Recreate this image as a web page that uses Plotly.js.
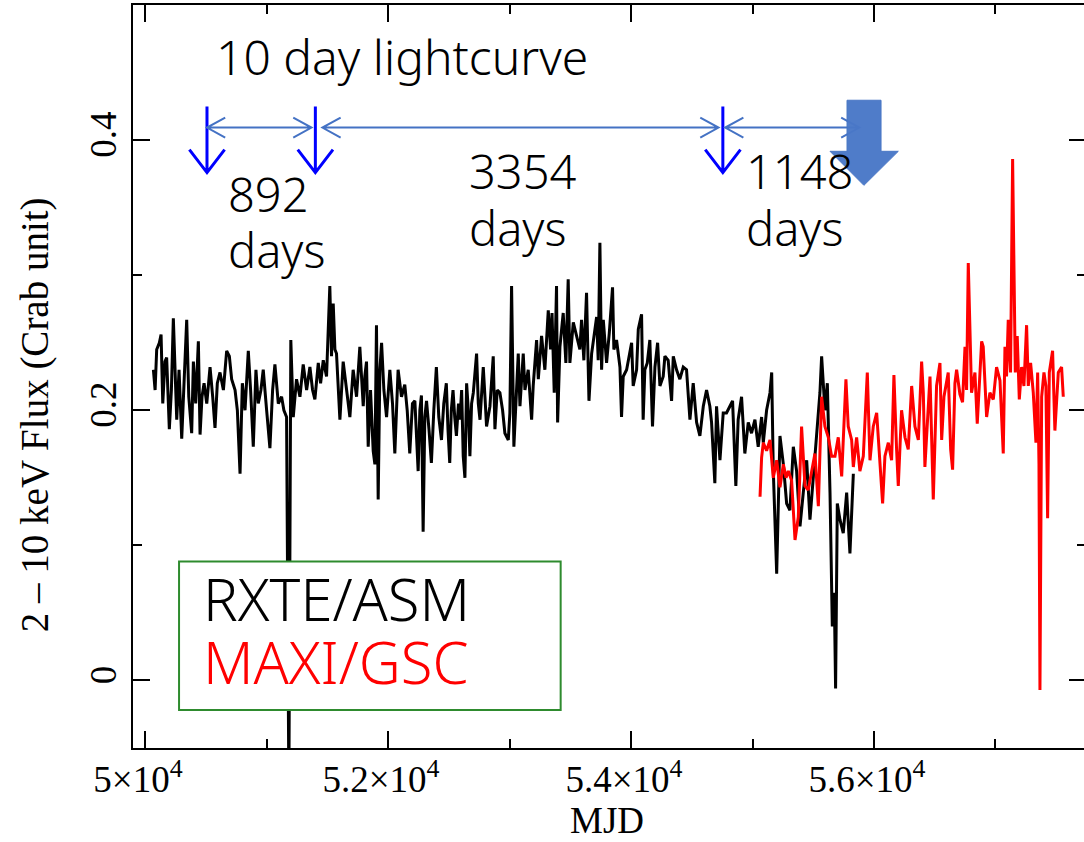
<!DOCTYPE html>
<html>
<head>
<meta charset="utf-8">
<script src="https://cdn.plot.ly/plotly-3.0.1.min.js"></script>
<style>
html,body{margin:0;padding:0;overflow:hidden;background:#fff;}
#chart{width:1086px;height:842px;}
</style>
</head>
<body>
<div id="chart"></div>
<script>
// ---------------- data ----------------
const asmMJD = [
50069,50083,50096,50118,50132,50146,50164,50178,50200,50217,50233,50247,50261,50280,50302,50321,50343,50360,50384,50398,
50417,50439,50453,50469,50486,50508,50535,50557,50576,50595,50617,50645,50672,50694,50713,50741,50760,50782,50801,50823,
50850,50869,50891,50913,50932,50954,50973,51001,51028,51050,51069,51097,51124,51143,51165,51184,51200,51220,51247,51275,
51302,51330,51357,51379,51398,51426,51445,51467,51494,51521,51535,51549,51563,51576,51604,51631,51659,51686,51713,51741,
51768,51796,51809,51823,51837,51856,51878,51892,51905,51919,51933,51947,51966,51988,52015,52037,52056,52083,52111,52138,
52158,52179,52201,52221,52248,52262,52275,52289,52303,52317,52338,52357,52377,52398,52418,52440,52459,52480,52494,52508,
52521,52535,52549,52563,52580,
52592,52606,52619,52633,52647,52661,52674,52688,52702,52729,52743,52757,52784,52798,52811,52839,52866,52880,52899,52921,
52943,52962,52990,53003,53017,53036,53058,53072,53086,53113,53127,53141,53154,53182,53195,53223,53237,53264,53291,53319,
53338,53350,53368,53387,53396,53415,53442,53464,53483,53497,53525,53552,53579,53593,53612,53634,53654,53676,53703,53717,
53730,53744,53758,53772,53799,53821,53848,53859,53881,53909,53922,53936,53964,53991,54005,54018,54046,54060,54087,54100,
54114,54134,54155,54177,54197,54219,54238,54265,54279,54306,54334,54348,54375,54402,54430,54457,54485,54512,54540,54567,
54595,54622,54649,54663,54690,54704,54732,54759,54786,54814,54836,54863,54882,54910,54937,54965,54992,55020,55047,55075,
55089,55116,55144,55158,55171,55199,55212,55226,55254,55281,55308,55336,55363,55391,55418,55446,55473,55500,55528,55555,
55569,55596,55616,55638,55657,55673,55684,55698,55720,55747,55775,55802,55830
];
const asmFlux = [
0.230,0.215,0.245,0.250,0.256,0.205,0.236,0.239,0.186,0.215,0.268,0.225,0.193,0.230,0.179,0.220,0.267,0.210,0.183,0.236,
0.205,0.251,0.182,0.210,0.220,0.205,0.232,0.210,0.187,0.220,0.228,0.215,0.244,0.240,0.223,0.215,0.200,0.153,0.220,0.200,
0.244,0.215,0.173,0.230,0.205,0.215,0.230,0.200,0.172,0.215,0.234,0.205,0.210,0.200,0.195,-0.080,0.252,0.195,0.223,0.210,
0.234,0.215,0.232,0.215,0.208,0.235,0.220,0.237,0.225,0.292,0.240,0.279,0.245,0.242,0.193,0.236,0.215,0.195,0.230,0.210,
0.247,0.203,0.225,0.236,0.173,0.215,0.170,0.160,0.263,0.134,0.230,0.250,0.215,0.195,0.230,0.205,0.168,0.230,0.210,0.219,
0.200,0.168,0.205,0.207,0.155,0.200,0.211,0.110,0.195,0.207,0.185,0.161,0.200,0.232,0.195,0.178,0.205,0.220,0.185,0.161,
0.200,0.215,0.195,0.181,0.205,
0.193,0.215,0.166,0.150,0.220,0.200,0.166,0.205,0.213,0.242,0.205,0.193,0.232,0.210,0.188,0.203,0.240,0.186,0.215,0.213,
0.200,0.183,0.178,0.198,0.292,0.173,0.213,0.242,0.203,0.242,0.215,0.223,0.230,0.193,0.218,0.252,0.223,0.255,0.230,0.274,
0.245,0.272,0.213,0.292,0.191,0.247,0.272,0.235,0.297,0.235,0.265,0.255,0.245,0.267,0.237,0.287,0.207,0.242,0.262,0.269,
0.237,0.324,0.230,0.267,0.235,0.257,0.291,0.245,0.252,0.232,0.195,0.225,0.230,0.242,0.250,0.218,0.230,0.260,0.271,0.193,
0.230,0.235,0.252,0.188,0.232,0.250,0.218,0.225,0.240,0.237,0.207,0.240,0.230,0.223,0.232,0.230,0.193,0.220,0.191,0.181,
0.203,0.215,0.203,0.191,0.146,0.203,0.163,0.198,0.198,0.203,0.207,0.144,0.193,0.210,0.168,0.191,0.183,0.193,0.173,0.195,
0.176,0.200,0.213,0.228,0.156,0.079,0.119,0.181,0.160,0.131,0.126,0.173,0.155,0.114,0.139,0.163,0.119,0.151,0.181,0.213,
0.240,0.200,0.220,0.139,0.040,0.065,-0.006,0.131,0.119,0.109,0.139,0.094,0.153
];
const maxiMJD = [
55062,55075,55089,55116,55144,55171,55199,55226,55254,55276,55295,55322,55350,55377,55404,55432,55459,55487,55514,55542,
55569,55596,55624,55651,55679,55706,55734,55769,55788,55816,55830,55857,55884,55912,55945,55967,55994,56022,56049,56071,
56090,56118,56145,56164,56186,56200,56227,56255,56282,56310,56337,56365,56392,56406,56419,56447,56461,56488,56515,56543,
56557,56576,56611,56631,56647,56666,56680,56707,56729,56749,56762,56776,56790,56803,56831,56850,56886,56899,56927,56954,
56982,57009,57037,57064,57078,57091,57105,57124,57141,57152,57163,57179,57196,57215,57234,57256,57270,57289,57311,57333,
57347,57358,57366,57380,57399,57415,57429,57443,57470,57489,57517,57544,57558
];
const maxiFlux = [
0.136,0.165,0.176,0.170,0.178,0.150,0.163,0.143,0.160,0.150,0.155,0.148,0.104,0.121,0.188,0.144,0.141,0.154,0.168,0.129,
0.210,0.188,0.180,0.166,0.166,0.180,0.151,0.223,0.188,0.178,0.158,0.180,0.155,0.166,0.228,0.163,0.188,0.198,0.163,0.131,
0.166,0.176,0.163,0.226,0.171,0.144,0.200,0.180,0.171,0.218,0.188,0.178,0.236,0.213,0.158,0.200,0.225,0.134,0.218,0.235,
0.178,0.210,0.228,0.171,0.156,0.220,0.230,0.212,0.206,0.247,0.215,0.309,0.257,0.213,0.228,0.190,0.251,0.247,0.195,0.213,
0.208,0.232,0.222,0.168,0.247,0.225,0.267,0.228,0.386,0.321,0.228,0.255,0.208,0.232,0.218,0.263,0.218,0.235,0.213,0.176,
0.228,0.160,-0.007,0.210,0.228,0.218,0.120,0.228,0.244,0.185,0.228,0.232,0.210
];
const seriesNames = ["RXTE/ASM", "MAXI/GSC"];
const xTickVals = [50000, 52000, 54000, 56000];
const xTickText = ["5×10<sup>4</sup>", "5.2×10<sup>4</sup>", "5.4×10<sup>4</sup>", "5.6×10<sup>4</sup>"];
const xMinorVals = [51000, 53000, 55000, 57000];
const yTickVals = [0, 0.2, 0.4];
const yTickText = ["0", "0.2", "0.4"];
const yMinorVals = [0.1, 0.3];
// boundaries of the intervals (MJD) and their lengths in days
const markMJD = [50510, 51402, 54756];
const intervalDays = ["892", "3354", "1148"];

// ---------------- layout helpers ----------------
const serif = "Liberation Serif, Times New Roman, serif";
const sans = "Noto Sans, DejaVu Sans, sans-serif";
const blue = "#0000FF";
const steel = "#4472C4";

const shapes = [];
// thin blue down arrows
markMJD.forEach(m => {
  shapes.push({type:"path", xref:"x", yref:"y", layer:"above",
    path:`M ${m},0.4248 L ${m},0.3759 M ${m-145},0.3930 L ${m},0.3759 L ${m+145},0.3930`,
    line:{color:blue, width:3}});
});
// horizontal double arrows
const hy = 0.4093, ad = 150, ah = 0.0074;
[[50510, 51370], [51460, 54720], [54775, 55880]].forEach(([a, b]) => {
  shapes.push({type:"path", xref:"x", yref:"y", layer:"above",
    path:`M ${a},${hy} L ${b},${hy} M ${a+ad},${hy+ah} L ${a},${hy} L ${a+ad},${hy-ah} M ${b-ad},${hy+ah} L ${b},${hy} L ${b-ad},${hy-ah}`,
    line:{color:steel, width:2}});
});
// block arrow
shapes.push({type:"path", xref:"x", yref:"y", layer:"above",
  path:"M 55778,0.4295 L 56058,0.4295 L 56058,0.3917 L 56200,0.3917 L 55917,0.3665 L 55638,0.3917 L 55778,0.3917 Z",
  fillcolor:"#4a78c8", line:{color:"#4472C4", width:1}, opacity:0.97});
// legend box
shapes.push({type:"rect", xref:"x", yref:"y", layer:"above",
  x0:50280, x1:53421, y0:-0.0219, y1:0.088,
  fillcolor:"#ffffff", line:{color:"#2e8b2e", width:2}});

const annFont = {family:sans, size:47, color:"#000", weight:300};
const annotations = [
  {xref:"x", yref:"y", x:52115, y:0.4619, text:"10 day lightcurve", showarrow:false, xanchor:"center", yanchor:"middle",
    font:{family:sans, size:48, color:"#000", weight:300}},
  {xref:"x", yref:"y", x:50675, y:0.3600, text:intervalDays[0], showarrow:false, xanchor:"left", yanchor:"middle", font:annFont, borderpad:0},
  {xref:"x", yref:"y", x:50675, y:0.3190, text:"days", showarrow:false, xanchor:"left", yanchor:"middle", font:annFont, borderpad:0},
  {xref:"x", yref:"y", x:52658, y:0.3770, text:intervalDays[1], showarrow:false, xanchor:"left", yanchor:"middle", font:annFont, borderpad:0},
  {xref:"x", yref:"y", x:52658, y:0.3350, text:"days", showarrow:false, xanchor:"left", yanchor:"middle", font:annFont, borderpad:0},
  {xref:"x", yref:"y", x:54938, y:0.3770, text:intervalDays[2], showarrow:false, xanchor:"left", yanchor:"middle", font:annFont, borderpad:0},
  {xref:"x", yref:"y", x:54938, y:0.3350, text:"days", showarrow:false, xanchor:"left", yanchor:"middle", font:annFont, borderpad:0},
  {xref:"x", yref:"y", x:50467, y:0.0604, text:seriesNames[0], showarrow:false, xanchor:"left", yanchor:"middle",
    font:{family:sans, size:58, color:"#000000", weight:300}, borderpad:0},
  {xref:"x", yref:"y", x:50467, y:0.0137, text:seriesNames[1], showarrow:false, xanchor:"left", yanchor:"middle",
    font:{family:sans, size:58, color:"#FF0000", weight:300}, borderpad:0},
  {xref:"paper", yref:"paper", x:-0.1028, y:0.448, text:"2 – 10 keV Flux (Crab unit)", textangle:-90, showarrow:false,
    xanchor:"center", yanchor:"middle", font:{family:serif, size:39, color:"#000"}},
  {xref:"paper", yref:"paper", x:0.497, y:-0.1265, text:"MJD", showarrow:false, borderpad:0,
    xanchor:"center", yanchor:"bottom", font:{family:serif, size:37, color:"#000"}}
];

const traces = [
  {x:asmMJD, y:asmFlux, type:"scatter", mode:"lines", name:seriesNames[0], line:{color:"#000000", width:3}},
  {x:maxiMJD, y:maxiFlux, type:"scatter", mode:"lines", name:seriesNames[1], line:{color:"#FF0000", width:3}}
];

const axisCommon = {showline:true, linewidth:2, linecolor:"#000", mirror:"ticks", ticks:"inside",
  ticklen:17, tickwidth:2, tickcolor:"#000", showgrid:false, zeroline:false};

const layout = {
  width:1086, height:842,
  margin:{l:133, r:0, t:5, b:94},
  paper_bgcolor:"#fff", plot_bgcolor:"#fff",
  showlegend:false,
  xaxis:Object.assign({}, axisCommon, {
    range:[49901, 57745], tickmode:"array", tickvals:xTickVals, ticktext:xTickText,
    tickfont:{family:serif, size:37, color:"#000"}, ticklabelshift:-7, ticklabelstandoff:-2,
    minor:{tickmode:"array", tickvals:xMinorVals, ticks:"inside", ticklen:9, tickwidth:2, tickcolor:"#000"}
  }),
  yaxis:Object.assign({}, axisCommon, {
    range:[-0.05, 0.5], tickmode:"array", tickvals:yTickVals, ticktext:yTickText, tickangle:-90,
    tickfont:{family:serif, size:37, color:"#000"},
    minor:{tickmode:"array", tickvals:yMinorVals, ticks:"inside", ticklen:9, tickwidth:2, tickcolor:"#000"}
  }),
  shapes:shapes,
  annotations:annotations
};

Plotly.newPlot("chart", traces, layout, {staticPlot:true, displayModeBar:false});
</script>
</body>
</html>
